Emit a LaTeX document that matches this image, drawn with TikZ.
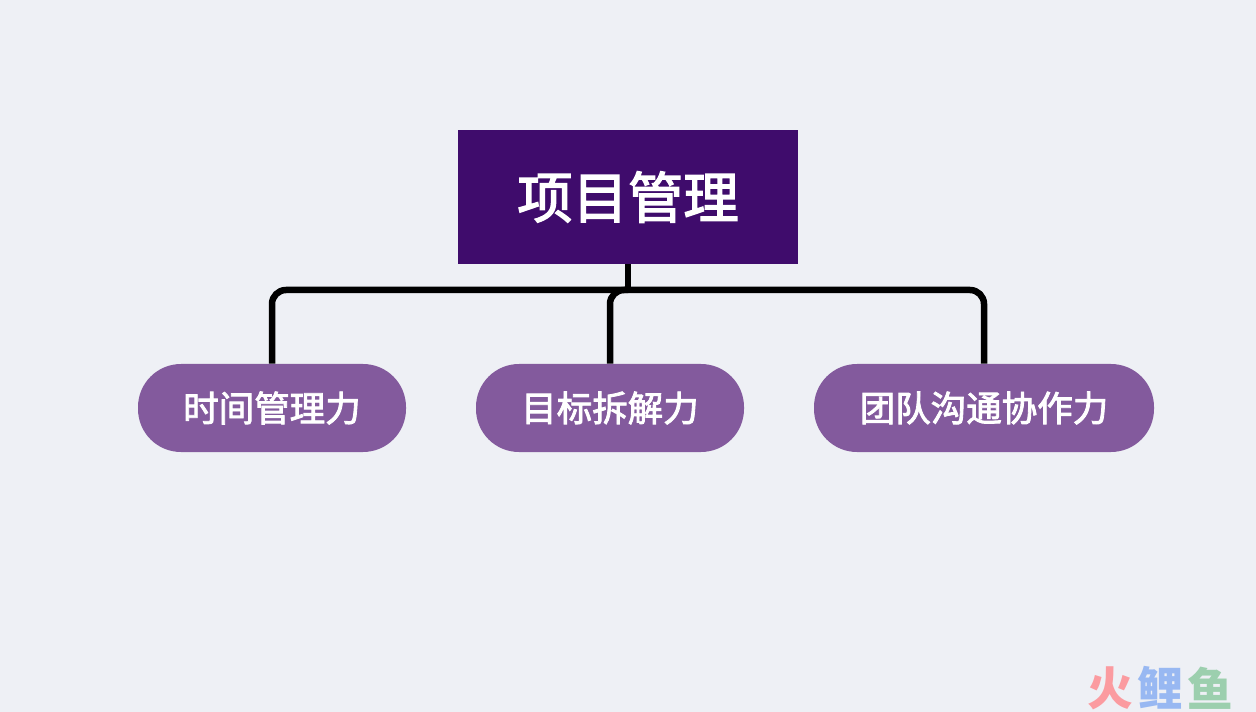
\documentclass[tikz,border=0pt]{standalone}
\usepackage{fontspec}
\setmainfont{Noto Sans CJK SC}
\newfontfamily\medfont[FakeBold=2.4]{Noto Sans CJK SC}
\definecolor{bgcol}{HTML}{EEF0F5}
\definecolor{rootcol}{HTML}{3F0C6C}
\definecolor{leafcol}{HTML}{835A9D}
\definecolor{markred}{HTML}{FB9BA0}
\definecolor{markblue}{HTML}{98B8F2}
\definecolor{markgreen}{HTML}{9CCFAE}
\tikzset{
	link/.style={draw=black,line width=6.5*0.02cm},
	root/.style={fill=rootcol,text=white,font=\fontsize{31.5}{31.5}\selectfont\medfont,minimum width=340*0.02cm,minimum height=134*0.02cm,inner sep=0pt},
	leaf/.style={fill=leafcol,text=white,font=\fontsize{20.2}{20.2}\selectfont\medfont,minimum height=88*0.02cm,rounded corners=43*0.02cm,inner sep=0pt},
	logotext/.style={font=\fontsize{26}{26}\selectfont\bfseries,inner sep=0pt}
}
\begin{document}
\begin{tikzpicture}[x=0.02cm,y=-0.02cm]
	\fill[bgcol] (0,0) rectangle (1256,712);
	\useasboundingbox (0,0) rectangle (1256,712);
	
	\coordinate (bus) at (628,290);
	
	\node[leaf,minimum width=268*0.02cm] (time) at (272,408) {时间管理力};
	\node[leaf,minimum width=268*0.02cm] (goal) at (610,408) {目标拆解力};
	\node[leaf,minimum width=340*0.02cm] (team) at (984,408) {团队沟通协作力};
	
	\draw[link,rounded corners=14*0.02cm] (bus) -| (time.north);
	\draw[link,rounded corners=14*0.02cm] (bus) -| (goal.north);
	\draw[link,rounded corners=14*0.02cm] (bus) -| (team.north);
	
	\node[root] (pm) at (628,197) {项目管理};
	\draw[link] (pm.south) -- ([yshift=-3*0.02cm]bus);
	
	\node[logotext,text=markred] (huo) at (1110,688) {火};
	\node[logotext,text=markblue] (li) at (1160,688) {鲤};
	\node[logotext,text=markgreen] (yu) at (1210,688) {鱼};
\end{tikzpicture}
\end{document}
